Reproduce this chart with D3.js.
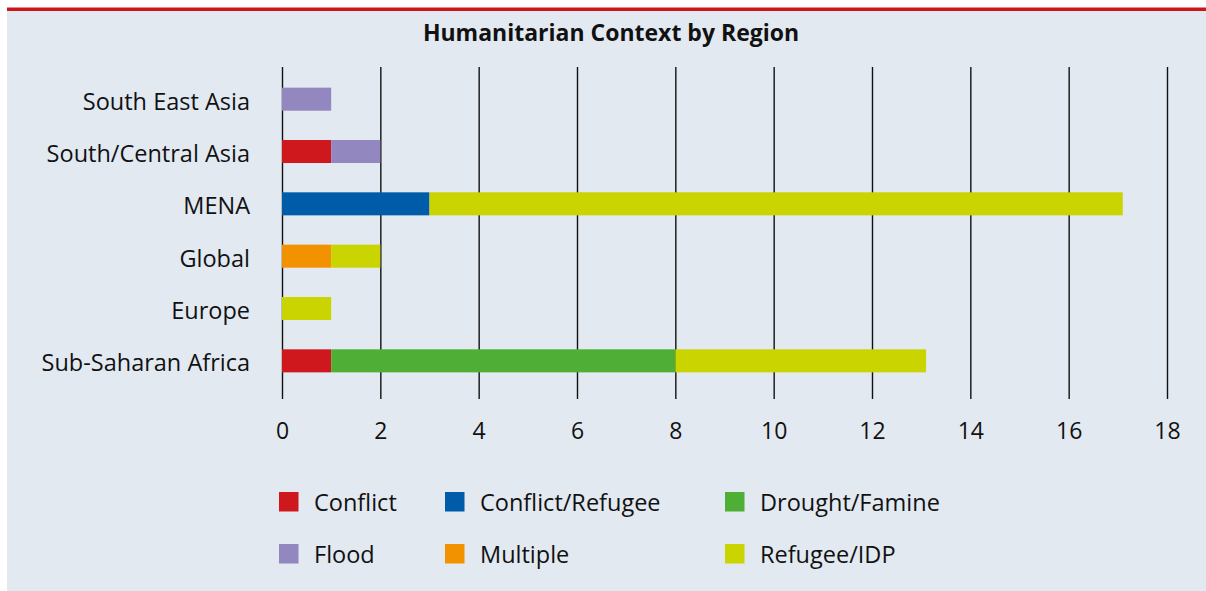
<!DOCTYPE html>
<html>
<head>
<meta charset="utf-8">
<script src="https://cdn.jsdelivr.net/npm/d3@7"></script>
<style>
  body { margin: 0; background: #fff; }
  text { font-family: "Open Sans", "Noto Sans", sans-serif; fill: #111; }
</style>
</head>
<body>
<script>
const width = 1206;
const height = 591;

const regions = ['South East Asia', 'South/Central Asia', 'MENA', 'Global', 'Europe', 'Sub-Saharan Africa'];
const contexts = ['Conflict', 'Conflict/Refugee', 'Drought/Famine', 'Flood', 'Multiple', 'Refugee/IDP'];
const colors = ['#cf181d', '#005ca9', '#4fae35', '#9287be', '#f39200', '#c9d400'];

// values per context, in region order
const conflict        = [0, 1, 0, 0, 0, 1];
const conflictRefugee = [0, 0, 3, 0, 0, 0];
const droughtFamine   = [0, 0, 0, 0, 0, 7];
const flood           = [1, 1, 0, 0, 0, 0];
const multiple        = [0, 0, 0, 1, 0, 0];
const refugeeIDP      = [0, 0, 14.1, 1, 1, 5.1];

const xTicks = [0, 2, 4, 6, 8, 10, 12, 14, 16, 18];

const series = [conflict, conflictRefugee, droughtFamine, flood, multiple, refugeeIDP];
const rows = regions.map((r, i) => {
  const o = {region: r};
  contexts.forEach((c, j) => o[c] = series[j][i]);
  return o;
});
const stacked = d3.stack().keys(contexts)(rows);

const svg = d3.select('body').append('svg')
  .attr('width', width).attr('height', height);

// panel
svg.append('rect').attr('x', 7).attr('y', 10).attr('width', width - 7).attr('height', height - 10)
  .attr('fill', '#e2e9f1');
svg.append('rect').attr('x', 7).attr('y', 7.5).attr('width', width - 7).attr('height', 3.5)
  .attr('fill', '#cc161c');

svg.append('text').attr('x', 611).attr('y', 41).attr('text-anchor', 'middle')
  .style('font-weight', 'bold').style('font-size', '23px')
  .text('Humanitarian Context by Region');

const x = d3.scaleLinear().domain([0, 18]).range([282, 1167]);
const y = d3.scaleBand().domain(regions).range([73, 387])
  .paddingInner(0.56).paddingOuter(0.28);

// grid lines
svg.append('g')
  .attr('transform', 'translate(0,399)')
  .call(d3.axisBottom(x).tickValues(xTicks).tickSize(-332).tickFormat(''))
  .call(g => g.select('.domain').remove())
  .call(g => g.selectAll('line').attr('stroke', '#111').attr('stroke-width', 1.4));

// bars
svg.append('g').selectAll('g').data(stacked).join('g')
  .attr('fill', (d, i) => colors[i])
  .selectAll('rect').data(d => d).join('rect')
  .attr('x', d => x(d[0]))
  .attr('y', d => y(d.data.region))
  .attr('width', d => x(d[1]) - x(d[0]))
  .attr('height', y.bandwidth());

// x tick labels
svg.append('g')
  .attr('transform', 'translate(0,399)')
  .call(d3.axisBottom(x).tickValues(xTicks).tickSize(0).tickPadding(24))
  .call(g => g.select('.domain').remove())
  .call(g => g.selectAll('text').style('font-size', '23px').attr('fill', '#111')
    .style('font-family', '"Open Sans", "Noto Sans", sans-serif'));

// y labels
svg.append('g')
  .attr('transform', 'translate(282,3)')
  .call(d3.axisLeft(y).tickSize(0).tickPadding(32))
  .call(g => g.select('.domain').remove())
  .call(g => g.selectAll('text').style('font-size', '23.5px').attr('fill', '#111')
    .style('font-family', '"Open Sans", "Noto Sans", sans-serif'));

// legend
const legX = [279, 445, 725];
const legY = [492, 544];
const legend = svg.append('g').selectAll('g').data(contexts).join('g')
  .attr('transform', (d, i) => `translate(${legX[i % 3]},${legY[Math.floor(i / 3)]})`);
legend.append('rect').attr('width', 19.5).attr('height', 19.5).attr('fill', (d, i) => colors[i]);
legend.append('text').attr('x', 35).attr('y', 11).attr('dy', '0.35em')
  .style('font-size', '23.5px').text(d => d);
</script>
</body>
</html>
